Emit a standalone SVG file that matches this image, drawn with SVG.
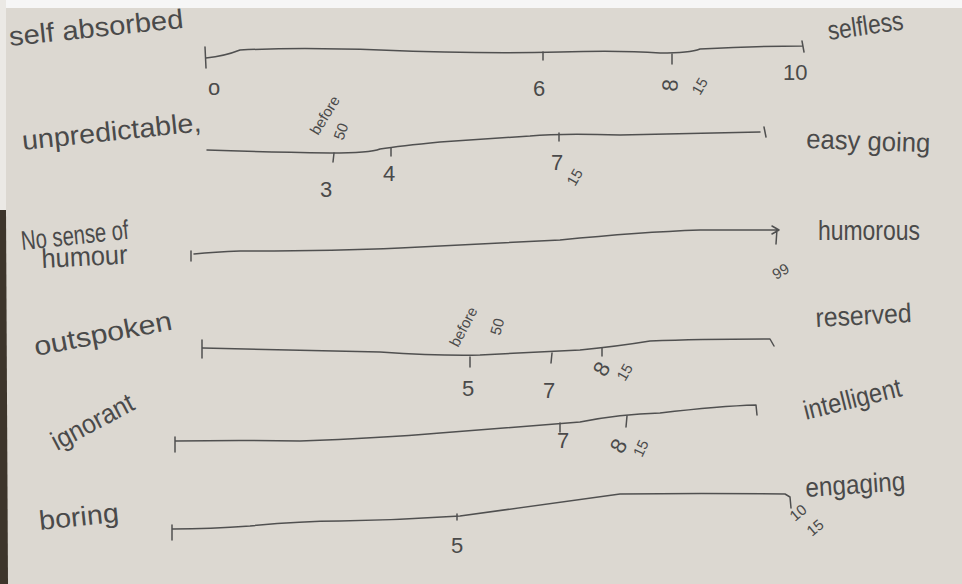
<svg xmlns="http://www.w3.org/2000/svg" width="962" height="584" viewBox="0 0 962 584">
<style>
.pen{fill:none;stroke:#505050;stroke-width:1.5;stroke-linecap:round;stroke-linejoin:round}
.lbl{font-family:"Liberation Sans","DejaVu Sans",sans-serif;fill:#4a4a4a;font-size:27px}
.num{font-family:"Liberation Sans","DejaVu Sans",sans-serif;fill:#4a4a4a;font-size:22px}
.sm{font-family:"Liberation Sans","DejaVu Sans",sans-serif;fill:#4a4a4a;font-size:15px}
</style>
<rect x="0" y="0" width="962" height="584" fill="#dcd8d1"/>
<rect x="0" y="0" width="962" height="8" fill="#f6f6f6"/>
<rect x="0" y="0" width="6" height="210" fill="#ebe9e5"/>
<path d="M0 210 L6 210 L8 584 L0 584 Z" fill="#3d352b"/>

<g id="row1">
<path class="pen" d="M205 47 L206 68 M206 58 Q225 56 240 50 Q300 47 380 50 Q480 54 560 52 Q620 50 660 53 Q690 53 700 49 Q760 46 802 46 M802 41 L804 52"/>
<path class="pen" d="M543 52 L543 60 M672 54 L672 64"/>
<text class="lbl" transform="translate(10,46) rotate(-6)" textLength="175" lengthAdjust="spacingAndGlyphs">self absorbed</text>
<text class="lbl" transform="translate(829,40) rotate(-8)" textLength="76" lengthAdjust="spacingAndGlyphs">selfless</text>
<text class="num" x="208" y="95" font-size="14">o</text>
<text class="num" x="533" y="96">6</text>
<text class="num" transform="translate(677,92) rotate(-85)">8</text>
<text class="sm" transform="translate(700,96) rotate(-60)">15</text>
<text class="num" x="783" y="80" font-size="19">10</text>
</g>

<g id="row2">
<path class="pen" d="M207 150 Q260 152 330 153 Q370 153 380 149 Q400 146 440 142 Q500 138 530 136 Q560 133 620 135 Q700 133 760 132 M764 127 L766 137"/>
<path class="pen" d="M334 153 L333 162 M391 148 L391 156 M559 133 L559 141"/>
<text class="lbl" transform="translate(23,150) rotate(-6)" textLength="180" lengthAdjust="spacingAndGlyphs">unpredictable,</text>
<text class="lbl" transform="translate(806,148) rotate(2)" textLength="124" lengthAdjust="spacingAndGlyphs">easy going</text>
<text class="sm" transform="translate(318,136) rotate(-58)">before</text>
<text class="sm" transform="translate(343,141) rotate(-70)">50</text>
<text class="num" x="320" y="197" font-size="26">3</text>
<text class="num" x="383" y="181">4</text>
<text class="num" x="551" y="170">7</text>
<text class="sm" transform="translate(575,187) rotate(-60)">15</text>
</g>

<g id="row3">
<path class="pen" d="M191 251 L191 261 M194 254 Q215 252 240 251 Q330 251 400 248 Q480 244 560 240 Q640 232 700 230 Q750 230 779 230 M772 226 L779 230 L772 234 M777 229 L776 244"/>
<text class="lbl" transform="translate(22,250) rotate(-6)" textLength="108" lengthAdjust="spacingAndGlyphs">No sense of</text>
<text class="lbl" transform="translate(42,268) rotate(-3)" textLength="86" lengthAdjust="spacingAndGlyphs">humour</text>
<text class="lbl" transform="translate(818,240)" textLength="102" lengthAdjust="spacingAndGlyphs">humorous</text>
<text class="sm" transform="translate(776,280) rotate(-30)" font-size="17">99</text>
</g>

<g id="row4">
<path class="pen" d="M202 340 L202 358 M203 348 Q300 350 380 352 Q440 356 480 355 Q540 352 580 350 Q620 346 650 341 Q700 339 770 339 L774 346"/>
<path class="pen" d="M470 357 L470 367 M552 353 L551 363 M602 348 L602 356"/>
<text class="lbl" transform="translate(36,356) rotate(-11)" textLength="140" lengthAdjust="spacingAndGlyphs">outspoken</text>
<text class="lbl" transform="translate(816,327) rotate(-3)" textLength="96" lengthAdjust="spacingAndGlyphs">reserved</text>
<text class="sm" transform="translate(458,348) rotate(-62)">before</text>
<text class="sm" transform="translate(500,336) rotate(-75)">50</text>
<text class="num" x="462" y="396">5</text>
<text class="num" x="543" y="398" font-size="26">7</text>
<text class="num" transform="translate(605,378) rotate(-60)" font-size="17">8</text>
<text class="sm" transform="translate(625,382) rotate(-60)">15</text>
</g>

<g id="row5">
<path class="pen" d="M175 437 L175 452 M176 441 Q240 440 300 441 Q380 438 440 433 Q540 425 580 422 Q620 414 660 413 Q720 406 756 405 L757 415"/>
<path class="pen" d="M560 423 L560 432 M627 416 L626 427"/>
<text class="lbl" transform="translate(57,451) rotate(-28)" textLength="90" lengthAdjust="spacingAndGlyphs">ignorant</text>
<text class="lbl" transform="translate(806,420) rotate(-14)" textLength="100" lengthAdjust="spacingAndGlyphs">intelligent</text>
<text class="num" x="557" y="448" font-size="20">7</text>
<text class="num" transform="translate(622,455) rotate(-60)" font-size="17">8</text>
<text class="sm" transform="translate(642,458) rotate(-65)">15</text>
</g>

<g id="row6">
<path class="pen" d="M172 525 L172 540 M173 529 Q210 529 250 526 Q300 521 340 521 Q400 520 460 516 Q560 502 620 494 Q700 493 785 494 L790 497 L791 508"/>
<path class="pen" d="M457 514 L457 520"/>
<text class="lbl" transform="translate(40,530) rotate(-6)" textLength="80" lengthAdjust="spacingAndGlyphs">boring</text>
<text class="lbl" transform="translate(806,497) rotate(-4)" textLength="100" lengthAdjust="spacingAndGlyphs">engaging</text>
<text class="num" x="451" y="553" font-size="24">5</text>
<text class="sm" transform="translate(795,522) rotate(-40)" font-size="13">10</text>
<text class="sm" transform="translate(812,537) rotate(-40)" font-size="13">15</text>
</g>
</svg>
